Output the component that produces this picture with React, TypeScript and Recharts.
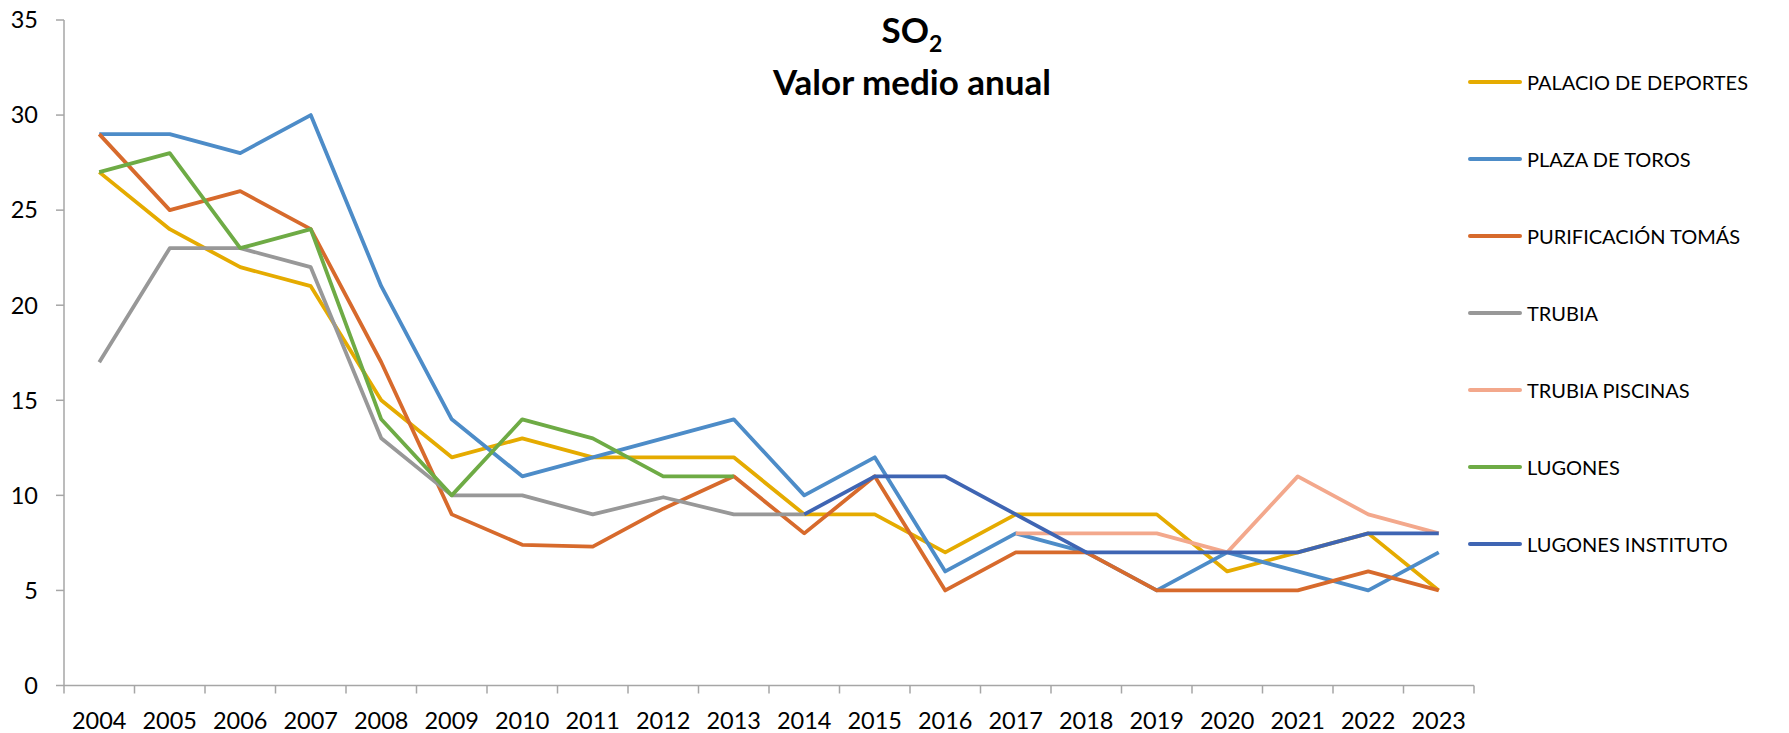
import { LineChart, Line, XAxis, YAxis, Legend } from 'recharts';

const years = ['2004', '2005', '2006', '2007', '2008', '2009', '2010', '2011', '2012', '2013', '2014', '2015', '2016', '2017', '2018', '2019', '2020', '2021', '2022', '2023'];

const palacio = [27, 24, 22, 21, 15, 12, 13, 12, 12, 12, 9, 9, 7, 9, 9, 9, 6, 7, 8, 5];
const plazaToros = [29, 29, 28, 30, 21, 14, 11, 12, 13, 14, 10, 12, 6, 8, 7, 5, 7, 6, 5, 7];
const purificacion = [29, 25, 26, 24, 17, 9, 7.4, 7.3, 9.3, 11, 8, 11, 5, 7, 7, 5, 5, 5, 6, 5];
const trubia = [17, 23, 23, 22, 13, 10, 10, 9, 9.9, 9, 9, null, null, null, null, null, null, null, null, null];
const trubiaPiscinas = [null, null, null, null, null, null, null, null, null, null, null, null, null, 8, 8, 8, 7, 11, 9, 8];
const lugones = [27, 28, 23, 24, 14, 10, 14, 13, 11, 11, null, null, null, null, null, null, null, null, null, null];
const lugonesInstituto = [null, null, null, null, null, null, null, null, null, null, 9, 11, 11, 9, 7, 7, 7, 7, 8, 8];

const yTicks = [0, 5, 10, 15, 20, 25, 30, 35];

const series = [
  { key: 'palacio', name: 'PALACIO DE DEPORTES', color: '#E5AB00', values: palacio },
  { key: 'plaza', name: 'PLAZA DE TOROS', color: '#4D8CC8', values: plazaToros },
  { key: 'purificacion', name: 'PURIFICACIÓN TOMÁS', color: '#D76A2C', values: purificacion },
  { key: 'trubia', name: 'TRUBIA', color: '#989898', values: trubia },
  { key: 'trubiaPiscinas', name: 'TRUBIA PISCINAS', color: '#F3A88C', values: trubiaPiscinas },
  { key: 'lugones', name: 'LUGONES', color: '#6EAB45', values: lugones },
  { key: 'lugonesInstituto', name: 'LUGONES INSTITUTO', color: '#3F65B3', values: lugonesInstituto },
];

const data = years.map((year, i) => {
  const row: { [key: string]: string | number | null } = { year };
  series.forEach((s) => {
    row[s.key] = s.values[i];
  });
  return row;
});

const CHART_W = 1789;
const CHART_H = 733;
const LEGEND_W = 315;
const Y_AXIS_W = 64;
const BAND = (CHART_W - LEGEND_W - Y_AXIS_W) / years.length;
const AXIS_COLOR = '#A6A6A6';
const FONT = 'Lato, "Liberation Sans", sans-serif';

const XTick = (props: any) => {
  const { x, y, payload, index } = props;
  const last = index === years.length - 1;
  return (
    <g>
      <line x1={x - BAND / 2} y1={y} x2={x - BAND / 2} y2={y + 8} stroke={AXIS_COLOR} strokeWidth={1.5} />
      {last && <line x1={x + BAND / 2} y1={y} x2={x + BAND / 2} y2={y + 8} stroke={AXIS_COLOR} strokeWidth={1.5} />}
      <text x={x} y={y + 43} textAnchor="middle" fontSize={23.5} fill="#000" fontFamily={FONT}>
        {payload.value}
      </text>
    </g>
  );
};

const renderLegend = () => (
  <div style={{ marginLeft: -6, fontFamily: FONT }}>
    {series.map((s) => (
      <div key={s.key} style={{ height: 77, display: 'flex', alignItems: 'center' }}>
        <div style={{ width: 54, height: 4, borderRadius: 2, background: s.color, marginRight: 5 }} />
        <span style={{ fontSize: 20, color: '#000', whiteSpace: 'nowrap' }}>{s.name}</span>
      </div>
    ))}
  </div>
);

export default function App() {
  return (
    <div style={{ position: 'absolute', left: 0, top: 0, width: CHART_W, height: CHART_H, background: '#fff' }}>
      <LineChart width={CHART_W} height={CHART_H} data={data} margin={{ top: 20, right: 0, bottom: 0, left: 0 }}>
        <XAxis
          dataKey="year"
          height={47.5}
          interval={0}
          padding={{ left: BAND / 2, right: BAND / 2 }}
          tickSize={0}
          tickMargin={0}
          axisLine={{ stroke: AXIS_COLOR, strokeWidth: 1.5 }}
          tickLine={false}
          tick={<XTick />}
        />
        <YAxis
          domain={[0, 35]}
          ticks={yTicks}
          width={Y_AXIS_W}
          tickSize={8}
          tickMargin={18}
          axisLine={{ stroke: AXIS_COLOR, strokeWidth: 1.5 }}
          tickLine={{ stroke: AXIS_COLOR, strokeWidth: 1.5 }}
          tick={{ fill: '#000', fontSize: 23.5, fontFamily: FONT }}
        />
        {series.map((s) => (
          <Line
            key={s.key}
            type="linear"
            dataKey={s.key}
            name={s.name}
            stroke={s.color}
            strokeWidth={3.8}
            strokeLinejoin="round"
            dot={false}
            activeDot={false}
            connectNulls={false}
            isAnimationActive={false}
          />
        ))}
        <Legend
          layout="vertical"
          align="right"
          verticalAlign="top"
          content={renderLegend}
          wrapperStyle={{ position: 'absolute', left: CHART_W - LEGEND_W, top: 43.5, width: LEGEND_W }}
        />
      </LineChart>
      <svg width={CHART_W} height={120} style={{ position: 'absolute', left: 0, top: 0, pointerEvents: 'none' }}>
        <text x={912} y={43} textAnchor="middle" fontFamily={FONT} fontWeight="bold" fontSize={35} fill="#000">
          SO
          <tspan fontSize={23} dy={9}>2</tspan>
        </text>
        <text x={912} y={95} textAnchor="middle" fontFamily={FONT} fontWeight="bold" fontSize={35} fill="#000">
          Valor medio anual
        </text>
      </svg>
    </div>
  );
}
